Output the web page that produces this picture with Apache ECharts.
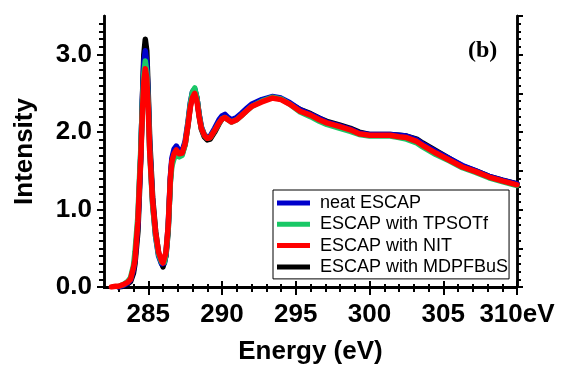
<!DOCTYPE html>
<html><head><meta charset="utf-8">
<script src="https://cdn.jsdelivr.net/npm/echarts@6/dist/echarts.min.js"></script>
<style>html,body{margin:0;padding:0;background:#fff}#c{width:561px;height:366px}</style>
</head><body><div id="c"></div>
<script>
const energy = [282.5, 282.8, 283.0, 283.3, 283.6, 283.8, 284.0, 284.1, 284.3, 284.4, 284.5, 284.6, 284.7, 284.8, 284.9, 285.0, 285.1, 285.3, 285.5, 285.7, 285.9, 286.0, 286.1, 286.2, 286.35, 286.5, 286.6, 286.75, 286.9, 287.1, 287.3, 287.5, 287.7, 287.85, 288.0, 288.15, 288.3, 288.45, 288.6, 288.8, 289.0, 289.2, 289.5, 289.8, 290.0, 290.2, 290.4, 290.65, 291.0, 291.3, 291.7, 292.0, 292.7, 293.4, 294.0, 294.6, 295.3, 296.0, 296.6, 297.1, 298.0, 298.7, 299.3, 300.0, 300.7, 301.4, 302.0, 302.5, 303.2, 303.6, 304.5, 305.4, 306.3, 307.2, 308.1, 309.0, 310.0];
const neatESCAP = [null, null, 0.00, 0.02, 0.05, 0.09, 0.22, 0.36, 0.82, 1.30, 1.75, 2.40, 2.90, 3.05, 2.90, 2.40, 1.80, 1.08, 0.65, 0.40, 0.30, 0.28, 0.31, 0.43, 0.78, 1.42, 1.66, 1.78, 1.82, 1.76, 1.76, 1.88, 2.14, 2.38, 2.52, 2.56, 2.44, 2.23, 2.07, 1.97, 1.93, 1.95, 2.05, 2.16, 2.21, 2.23, 2.19, 2.16, 2.19, 2.24, 2.31, 2.36, 2.42, 2.46, 2.44, 2.38, 2.29, 2.23, 2.18, 2.13, 2.08, 2.04, 1.99, 1.97, 1.97, 1.97, 1.96, 1.95, 1.90, 1.85, 1.75, 1.66, 1.57, 1.50, 1.43, 1.38, 1.33];
const withTPSOTf = [null, null, 0.01, 0.03, 0.07, 0.12, 0.28, 0.45, 0.92, 1.38, 1.80, 2.35, 2.75, 2.92, 2.78, 2.35, 1.75, 1.05, 0.66, 0.42, 0.32, 0.30, 0.32, 0.43, 0.75, 1.35, 1.56, 1.66, 1.70, 1.68, 1.70, 1.84, 2.12, 2.36, 2.52, 2.57, 2.44, 2.22, 2.06, 1.96, 1.92, 1.93, 2.02, 2.12, 2.17, 2.19, 2.16, 2.13, 2.16, 2.21, 2.28, 2.33, 2.40, 2.45, 2.43, 2.36, 2.26, 2.20, 2.14, 2.10, 2.05, 2.01, 1.97, 1.95, 1.95, 1.95, 1.93, 1.91, 1.86, 1.81, 1.71, 1.63, 1.54, 1.48, 1.41, 1.36, 1.31];
const withNIT = [0.00, 0.01, 0.01, 0.03, 0.06, 0.10, 0.25, 0.35, 0.85, 1.30, 1.70, 2.25, 2.65, 2.82, 2.70, 2.30, 1.75, 1.10, 0.70, 0.45, 0.34, 0.31, 0.33, 0.45, 0.78, 1.40, 1.62, 1.72, 1.77, 1.72, 1.73, 1.85, 2.10, 2.32, 2.45, 2.50, 2.40, 2.20, 2.05, 1.96, 1.92, 1.93, 2.02, 2.12, 2.17, 2.19, 2.16, 2.13, 2.16, 2.21, 2.28, 2.33, 2.39, 2.44, 2.42, 2.36, 2.27, 2.22, 2.16, 2.12, 2.07, 2.03, 1.98, 1.96, 1.96, 1.96, 1.94, 1.93, 1.88, 1.83, 1.73, 1.64, 1.55, 1.49, 1.42, 1.37, 1.32];
const withMDPFBuS = [null, null, 0.00, 0.01, 0.04, 0.07, 0.18, 0.30, 0.72, 1.20, 1.70, 2.40, 3.00, 3.20, 3.05, 2.50, 1.90, 1.15, 0.72, 0.44, 0.31, 0.26, 0.28, 0.40, 0.72, 1.38, 1.62, 1.74, 1.79, 1.72, 1.72, 1.84, 2.10, 2.34, 2.50, 2.54, 2.44, 2.22, 2.04, 1.94, 1.90, 1.91, 2.00, 2.11, 2.17, 2.20, 2.17, 2.14, 2.17, 2.22, 2.29, 2.34, 2.41, 2.45, 2.43, 2.37, 2.29, 2.24, 2.18, 2.14, 2.09, 2.05, 2.00, 1.97, 1.97, 1.97, 1.96, 1.95, 1.91, 1.86, 1.76, 1.66, 1.56, 1.50, 1.43, 1.38, 1.33];
const seriesNames = ['neat ESCAP', 'ESCAP with TPSOTf', 'ESCAP with NIT', 'ESCAP with MDPFBuS'];
const xTickLabels = [285, 290, 295, 300, 305, 310];
const yTickLabels = [0, 1, 2, 3];

const xMinor = []; for (let v = 283; v <= 309; v++) if (v % 5) xMinor.push(v);
const yMinor = []; for (let i = 1; i < 35; i++) if (i % 10) yMinor.push(i / 10);
const yRightMajor = []; for (let i = 0; i <= 7; i++) yRightMajor.push(i / 2);
const yRightMinor = []; for (let i = 1; i < 35; i++) if (i % 5) yRightMinor.push(i / 10);

const pairs = vals => energy.map((e, i) => [e, vals[i]]).filter(p => p[1] !== null);
const FONT = '"Liberation Sans", Arial, sans-serif';
const axisLine = {show: true, lineStyle: {color: '#000', width: 2.5}};
function xAx(pos, ticks, len, opts) {
  return Object.assign({type: 'value', min: 282, max: 310, position: pos,
    axisLine: axisLine, splitLine: {show: false},
    axisTick: {show: true, inside: false, length: len, customValues: ticks, lineStyle: {color: '#000', width: 2}},
    axisLabel: {show: false}}, opts || {});
}
function yAx(pos, ticks, len, opts) {
  return Object.assign({type: 'value', min: 0, max: 3.5, position: pos,
    axisLine: axisLine, splitLine: {show: false},
    axisTick: {show: true, inside: false, length: len, customValues: ticks, lineStyle: {color: '#000', width: 2}},
    axisLabel: {show: false}}, opts || {});
}
const colors = ['#0000cc', '#19c866', '#ff0000', '#000000'];
const vals = [neatESCAP, withTPSOTf, withNIT, withMDPFBuS];
const drawOrder = [3, 0, 1, 2];
const chart = echarts.init(document.getElementById('c'));
chart.setOption({
  animation: false,
  grid: {left: 104, top: 16, right: 44, bottom: 79, containLabel: false, outerBoundsMode: 'none'},
  xAxis: [
    xAx('bottom', xTickLabels, 8, {
      axisLabel: {show: true, customValues: xTickLabels, margin: 15, color: '#000', fontFamily: FONT, fontWeight: 'bold', fontSize: 26,
        formatter: v => v === 310 ? '310eV' : String(v)},
      name: 'Energy (eV)', nameLocation: 'middle', nameGap: 52,
      nameTextStyle: {color: '#000', fontFamily: FONT, fontWeight: 'bold', fontSize: 26}}),
    xAx('bottom', xMinor, 5),
    xAx('top', xTickLabels, 6),
    xAx('top', xMinor, 3)
  ],
  yAxis: [
    yAx('left', yTickLabels, 7, {
      axisLabel: {show: true, customValues: yTickLabels, margin: 12, color: '#000', fontFamily: FONT, fontWeight: 'bold', fontSize: 26,
        formatter: v => v.toFixed(1)},
      name: 'Intensity', nameLocation: 'middle', nameGap: 66, nameRotate: 90,
      nameTextStyle: {color: '#000', fontFamily: FONT, fontWeight: 'bold', fontSize: 26}}),
    yAx('left', yMinor, 5),
    yAx('right', yRightMajor, 6),
    yAx('right', yRightMinor, 4)
  ],
  legend: {
    data: seriesNames, orient: 'vertical', left: 273, top: 190,
    borderColor: '#000', borderWidth: 1, padding: [4, 1, 3, 4], itemGap: 3.3,
    icon: 'rect', itemWidth: 33, itemHeight: 5,
    textStyle: {color: '#000', fontFamily: FONT, fontSize: 18, lineHeight: 18, padding: [0, 0, 0, 5]}
  },
  graphic: [{type: 'text', left: 468, top: 39,
    style: {text: '(b)', font: 'bold 24px "Liberation Serif", "Times New Roman", serif', fill: '#000'}}],
  series: drawOrder.map(i => ({
    name: seriesNames[i], type: 'line', data: pairs(vals[i]), xAxisIndex: 0, yAxisIndex: 0,
    showSymbol: false, symbol: 'none', color: colors[i], clip: true,
    lineStyle: {width: 5.5, color: colors[i], join: 'round', cap: 'round'}
  }))
});
</script></body></html>
